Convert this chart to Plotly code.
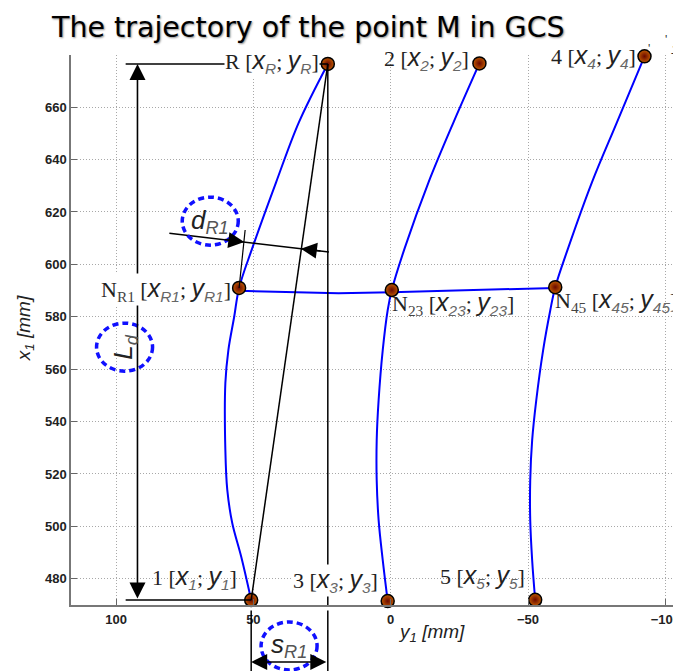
import plotly.graph_objects as go

# ---------------- data (y1 = horizontal axis [mm], x1 = vertical axis [mm]) ----------------
curve1_y1 = [50.8, 54.4, 57.7, 59.5, 60.2, 60.2, 59.1, 57.0, 55.2, 50.4, 41.7, 33.4, 22.9]
curve1_x1 = [471.9, 488.3, 501.3, 513.9, 529.1, 554.7, 567.3, 579.9, 591.0, 606.2, 631.4, 654.3, 676.5]

curve2_y1 = [1.1, 2.9, 4.4, 5.1, 5.1, 4.4, 2.9, 1.1, -0.4, -5.1, -13.8, -22.9, -32.3]
curve2_x1 = [471.5, 487.1, 502.4, 517.6, 532.9, 548.2, 567.3, 582.5, 590.2, 606.2, 631.4, 654.3, 676.7]

curve3_y1 = [-52.6, -51.5, -50.8, -50.8, -51.5, -53.0, -55.5, -58.1, -59.9, -64.6, -73.3, -82.4, -92.4]
curve3_x1 = [472.0, 487.1, 502.4, 517.6, 532.9, 548.2, 567.3, 582.5, 591.3, 606.2, 631.4, 654.3, 679.4]

nline_y1 = [55.2, 19.0, -0.4, -41.0, -59.9]
nline_x1 = [589.9, 589.0, 589.4, 590.4, 591.0]

point_names = ["R", "2", "4", "1", "3", "5", "NR1", "N23", "N45"]
point_y1 = [22.9, -32.3, -92.4, 50.8, 1.1, -52.6, 55.2, -0.4, -59.9]
point_x1 = [676.5, 676.7, 679.4, 471.9, 471.5, 472.0, 591.0, 590.2, 591.3]

xtick_vals = [100, 50, 0, -50, -100]
ytick_vals = [480, 500, 520, 540, 560, 580, 600, 620, 640, 660]

P = dict(zip(point_names, zip(point_y1, point_x1)))

# dimension helpers (positions in data units)
Ld_y1 = 92.2          # vertical L_d dimension line
ext_y1 = 96.5         # start of horizontal extension lines
dR1_a = (80.6, 611.9)  # d_R1 dimension line ends
dR1_b = (22.5, 604.7)
dR1_head1 = (53.3, 608.5)
dR1_head2 = (32.7, 606.0)
dR1_ext_end = (53.0, 613.1)

BLUE = "#0000ff"
SERIF = "Liberation Serif"
SANS = "Liberation Sans"

fig = go.Figure()

for cy, cx in [(curve1_y1, curve1_x1), (curve2_y1, curve2_x1), (curve3_y1, curve3_x1)]:
    fig.add_trace(go.Scatter(x=cy, y=cx, mode="lines",
                             line=dict(color=BLUE, width=2, shape="spline", smoothing=1),
                             hoverinfo="skip", showlegend=False))
fig.add_trace(go.Scatter(x=nline_y1, y=nline_x1, mode="lines",
                         line=dict(color=BLUE, width=2), hoverinfo="skip", showlegend=False))

# --------------- black construction lines ---------------
shapes = []
def seg(x0, y0, x1, y1, xref="x", yref="y", w=1.5):
    shapes.append(dict(type="line", x0=x0, y0=y0, x1=x1, y1=y1, xref=xref, yref=yref,
                       line=dict(color="black", width=w)))

R = P["R"]; p1 = P["1"]; NR1 = P["NR1"]
seg(R[0], R[1], p1[0], p1[1])                     # chord R - 1
seg(R[0], R[1], R[0], 470)                        # vertical from R
seg(R[0], -0.01, R[0], -0.15, yref="paper")        # its continuation below axis
seg(p1[0], -0.01, p1[0], -0.15, yref="paper")      # vertical from 1 below axis
seg(ext_y1, R[1], R[0], R[1])                     # top extension line
seg(ext_y1, p1[1], p1[0], p1[1])                  # bottom extension line
seg(NR1[0], NR1[1], dR1_ext_end[0], dR1_ext_end[1], w=1.2)
seg(dR1_a[0], dR1_a[1], dR1_b[0], dR1_b[1], w=1.5)

# dashed circles
def circ(xc, yc, yref="y"):
    shapes.append(dict(type="circle", xref="x", yref=yref, xsizemode="pixel", ysizemode="pixel",
                       xanchor=xc, yanchor=yc, x0=-28, x1=28, y0=-24, y1=24,
                       line=dict(color="#1010ff", width=3.5, dash="6px,4px")))
circ(65.7, 616.5)
circ(96.9, 568.4)
circ(37.0, -0.0745, yref="paper")

ann = []
# arrows
arrow_style = dict(text="", showarrow=True, arrowhead=2, arrowsize=2.0, arrowwidth=1.6,
                   arrowcolor="black")
ann.append(dict(x=Ld_y1, y=R[1], ax=Ld_y1, ay=p1[1], xref="x", yref="y", axref="x", ayref="y",
                arrowside="end+start", **arrow_style))
ann.append(dict(x=p1[0], y=-0.1036, ax=R[0], ay=0, xref="x", yref="paper", axref="x",
                ayref="pixel", arrowside="end+start", **arrow_style))
ann.append(dict(x=dR1_head1[0], y=dR1_head1[1], ax=61.0, ay=609.5, xref="x", yref="y",
                axref="x", ayref="y", **arrow_style))
ann.append(dict(x=dR1_head2[0], y=dR1_head2[1], ax=25.0, ay=605.0, xref="x", yref="y",
                axref="x", ayref="y", **arrow_style))

def sub(s):
    return f'<sub><span style="color:#666;font-family:{SANS}"><i>{s}</i></span></sub>'

def xy(s):
    return (f'<span style="font-family:{SANS};font-size:25px"><i>x</i></span>{sub(s)}; '
            f'<span style="font-family:{SANS};font-size:25px"><i>y</i></span>{sub(s)}')

def lab(name, s):
    return f'{name} [{xy(s)}]'

def nlab(s):
    return f'N<sub><span style="color:#444">{s}</span></sub> [{xy(s)}]'

def text_ann(key, txt, xanchor, yanchor, xs, ys, bg=None):
    d = dict(x=P[key][0], y=P[key][1], xref="x", yref="y", text=txt, showarrow=False,
             xanchor=xanchor, yanchor=yanchor, xshift=xs, yshift=ys,
             font=dict(family=SERIF, size=22, color="#222"), borderpad=0)
    if bg:
        d["bgcolor"] = bg
    ann.append(d)

text_ann("R", lab("R", "R"), "right", "middle", -8, 2, bg="white")
text_ann("2", lab("2", "2"), "right", "middle", -9, 5)
text_ann("4", lab("4", "4"), "right", "middle", -7, 0)
text_ann("NR1", nlab("R1"), "right", "middle", -7, -2, bg="white")
text_ann("N23", nlab("23"), "left", "top", -1, 3)
text_ann("N45", nlab("45"), "left", "top", -1, 3)
text_ann("1", lab("1", "1"), "right", "middle", -13, 23)
text_ann("3", lab("3", "3"), "right", "middle", -9, 21, bg="white")
text_ann("5", lab("5", "5"), "right", "middle", -9, 23)

def circ_text(xc, yc, letter, s, yref="y", angle=0):
    ann.append(dict(x=xc, y=yc, xref="x", yref=yref, showarrow=False, textangle=angle,
                    xanchor="center", yanchor="middle",
                    text=f'<i>{letter}</i><sub><span style="color:#555"><i>{s}</i></span></sub>',
                    font=dict(family=SANS, size=26, color="#222")))
circ_text(65.7, 616.5, "d", "R1")
circ_text(96.9, 568.4, "L", "d", angle=-90)
circ_text(37.0, -0.0745, "s", "R1", yref="paper")

# axis titles
ann.append(dict(x=-0.0755, y=0.5036, xref="paper", yref="paper", showarrow=False, textangle=-90,
                xanchor="center", yanchor="middle",
                text="<i>x</i><sub><i>1</i></sub><i> [mm]</i>",
                font=dict(family=SANS, size=19, color="#222")))
ann.append(dict(x=0.594, y=-0.0509, xref="paper", yref="paper", showarrow=False,
                xanchor="center", yanchor="middle",
                text="<i>y</i><sub><i>1</i></sub><i> [mm]</i>",
                font=dict(family=SANS, size=19, color="#222")))
# cut-off fragments at the top-right corner
ann.append(dict(x=0.957, y=1.027, xref="paper", yref="paper", showarrow=False,
                text="'", font=dict(family=SANS, size=12, color="#333")))
ann.append(dict(x=0.985, y=1.0436, xref="paper", yref="paper", showarrow=False,
                text="'", font=dict(family=SANS, size=12, color="#333")))
ann.append(dict(x=0.995, y=1.0255, xref="paper", yref="paper", showarrow=False, xanchor="center",
                text="<i>1</i>", font=dict(family=SANS, size=12, color="#333")))

# points
fig.add_trace(go.Scatter(x=point_y1, y=point_x1, mode="markers", cliponaxis=False,
                         marker=dict(size=13, color="#c05a00",
                                     gradient=dict(type="radial", color="#6a0800"),
                                     line=dict(color="black", width=1.5)),
                         hoverinfo="skip", showlegend=False))

# the page body has an 8px margin: figure is 673x663 so it ends at the window edge
fig.update_layout(
    width=673, height=663,
    margin=dict(l=63, r=1, t=47, b=66),
    paper_bgcolor="white", plot_bgcolor="white",
    title=dict(text="The trajectory of the point M in GCS", x=44/673, xanchor="left",
               y=1-19/663, yanchor="middle", xref="container", yref="container",
               font=dict(family="DejaVu Sans", size=28.5, color="black",
                         shadow="1px 1px 2px rgba(0,0,0,0.45)")),
    shapes=shapes, annotations=ann,
)
axis_common = dict(showgrid=True, gridcolor="#a8a8a8", griddash="1px,2px", gridwidth=1,
                   zeroline=False, showline=True, linecolor="#777", linewidth=1.5,
                   ticks="inside", ticklen=6, tickcolor="#666",
                   tickfont=dict(family=SANS, size=13, color="#222", weight="bold"))
fig.update_xaxes(range=[116.4, -104.6], tickvals=xtick_vals, ticklabelstandoff=2, **axis_common)
fig.update_yaxes(range=[470, 679.9], tickvals=ytick_vals, mirror=True, **axis_common)

fig.write_html("out.html")
